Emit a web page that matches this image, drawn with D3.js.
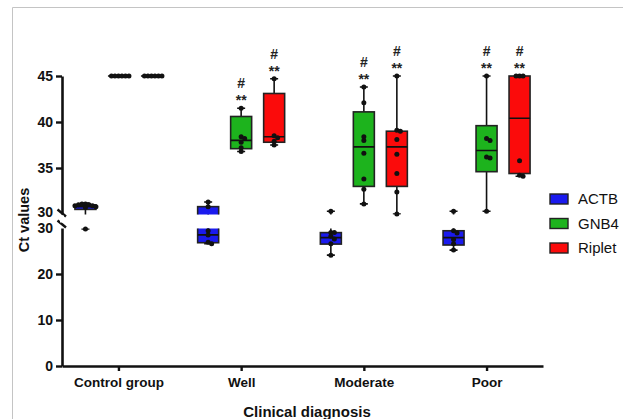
<!DOCTYPE html>
<meta charset="utf-8">
<script src="https://d3js.org/d3.v7.min.js"></script>
<style>
  body { margin: 0; background: #fff; }
  svg { display: block; }
</style>
<div id="my_dataviz"></div>
<script>

// categories and series
var groups = ["Control group", "Well", "Moderate", "Poor"];
var genes = ["ACTB", "GNB4", "Riplet"];
var geneColors = ["#1a1aee", "#1db31d", "#fb0b0b"];

// box stats per group: [min, q1, median, q3, max]
var actbBox   = [[29.8, 30.5, 30.8, 31.0, 31.2], [26.6, 26.8, 28.5, 30.8, 31.3], [24.1, 26.5, 27.9, 29.0, 30.3], [25.2, 26.3, 27.9, 29.4, 30.3]];
var gnb4Box   = [[45, 45, 45, 45, 45], [36.8, 37.1, 38.0, 40.6, 41.5], [31.1, 33.0, 37.3, 41.1, 43.8], [30.3, 34.6, 36.9, 39.6, 45.0]];
var ripletBox = [[45, 45, 45, 45, 45], [37.5, 37.8, 38.4, 43.1, 44.7], [30.0, 33.0, 37.3, 39.0, 45.0], [34.1, 34.4, 40.4, 45.0, 45.0]];

// individual samples
var actbPts = [[31.1, 31.0, 31.1, 30.9, 31.0, 30.8, 30.9, 30.7, 29.8],
               [31.3, 30.8, 29.4, 28.5, 26.9, 26.6],
               [30.3, 29.0, 29.0, 28.2, 27.6, 26.6, 24.1],
               [30.3, 29.4, 28.9, 27.5, 26.6, 25.2]];
var gnb4Pts = [[45, 45, 45, 45, 45, 45],
               [41.5, 38.4, 38.2, 37.8, 37.2, 36.8],
               [43.8, 42.1, 38.4, 38.0, 36.6, 33.8, 32.7, 31.1],
               [45.0, 38.2, 38.0, 36.2, 36.1, 30.3]];
var ripletPts = [[45, 45, 45, 45, 45, 45],
                 [44.7, 38.5, 38.3, 37.9, 37.5],
                 [45.0, 39.1, 39.0, 38.1, 36.5, 34.4, 32.4, 30.0],
                 [45, 45, 45, 35.8, 34.2, 34.1]];

// significance marks per group (for GNB4 and Riplet)
var starMarks = ["", "**", "**", "**"];
var hashMarks = ["", "#", "#", "#"];

var upperTicks = [30, 35, 40, 45];
var lowerTicks = [0, 10, 20, 30];
var breakValue = 30;

var boxes = [actbBox, gnb4Box, ripletBox];
var points = [actbPts, gnb4Pts, ripletPts];

var W = 623, H = 419;
var font = "Arial, 'Liberation Sans', sans-serif";

var svg = d3.select("#my_dataviz")
  .append("svg")
  .attr("width", W)
  .attr("height", H);

// light frame of the figure
svg.append("path")
  .attr("d", "M12.5," + H + "V7.5H" + W)
  .attr("fill", "none")
  .attr("stroke", "#c4c4c4")
  .attr("stroke-width", 1);

// scales
var x = d3.scalePoint().domain(groups).range([62, 543]).padding(0.46);
var xg = d3.scalePoint().domain(genes).range([-33, 33]);
var yUp = d3.scaleLinear().domain([30, 45]).range([214, 76]);
var yLow = d3.scaleLinear().domain([0, 30]).range([366, 228]);

var bw = 21, capW = 8;

// clip areas for the two axis segments
var defs = svg.append("defs");
defs.append("clipPath").attr("id", "clipUp")
  .append("rect").attr("x", 62).attr("y", 0).attr("width", 500).attr("height", 214.5);
defs.append("clipPath").attr("id", "clipLow")
  .append("rect").attr("x", 62).attr("y", 228.6).attr("width", 500).attr("height", 142);

// flatten to one row per box
var rows = [];
genes.forEach(function(g, gi) {
  groups.forEach(function(grp, i) {
    var b = boxes[gi][i];
    rows.push({gene: g, gi: gi, group: grp, gri: i, min: b[0], q1: b[1], med: b[2], q3: b[3], max: b[4], pts: points[gi][i]});
  });
});

function cx(d) { return x(d.group) + xg(d.gene); }

function drawBoxes(layer, y, upper) {
  // a cap is shown only on the segment that holds its value
  function capVis(v) { return (upper ? v >= breakValue : v < breakValue) ? null : "none"; }
  var g = layer.selectAll("g.box").data(rows).enter().append("g").attr("class", "box");
  // whiskers
  g.append("line")
    .attr("x1", cx).attr("x2", cx)
    .attr("y1", function(d) { return y(d.max); })
    .attr("y2", function(d) { return y(d.min); })
    .attr("stroke", "#111").attr("stroke-width", 1.6);
  g.append("line")
    .attr("x1", function(d) { return cx(d) - capW / 2; })
    .attr("x2", function(d) { return cx(d) + capW / 2; })
    .attr("y1", function(d) { return y(d.max); })
    .attr("y2", function(d) { return y(d.max); })
    .attr("display", function(d) { return capVis(d.max); })
    .attr("stroke", "#111").attr("stroke-width", 1.6);
  g.append("line")
    .attr("x1", function(d) { return cx(d) - capW / 2; })
    .attr("x2", function(d) { return cx(d) + capW / 2; })
    .attr("y1", function(d) { return y(d.min); })
    .attr("y2", function(d) { return y(d.min); })
    .attr("display", function(d) { return capVis(d.min); })
    .attr("stroke", "#111").attr("stroke-width", 1.6);
  // box
  g.append("rect")
    .attr("x", function(d) { return cx(d) - bw / 2; })
    .attr("y", function(d) { return y(d.q3); })
    .attr("width", bw)
    .attr("height", function(d) { return y(d.q1) - y(d.q3); })
    .attr("fill", function(d) { return geneColors[d.gi]; })
    .attr("stroke", "#222").attr("stroke-width", 1.6);
  // median
  g.append("line")
    .attr("x1", function(d) { return cx(d) - bw / 2; })
    .attr("x2", function(d) { return cx(d) + bw / 2; })
    .attr("y1", function(d) { return y(d.med); })
    .attr("y2", function(d) { return y(d.med); })
    .attr("stroke", "#111").attr("stroke-width", 1.6);
}

drawBoxes(svg.append("g").attr("clip-path", "url(#clipUp)"), yUp, true);
drawBoxes(svg.append("g").attr("clip-path", "url(#clipLow)"), yLow, false);

// sample dots, nudged sideways where they overlap
function yOf(v) { return v >= breakValue ? yUp(v) : yLow(v); }
var dots = [];
rows.forEach(function(r) {
  var placed = [];
  var steps = [0, 3.5, -3.5, 7, -7, 10.5, -10.5];
  r.pts.forEach(function(v) {
    var py = yOf(v);
    var off = steps[steps.length - 1];
    for (var k = 0; k < steps.length; k++) {
      var ok = placed.every(function(p) {
        var dx = p.dx - steps[k], dy = p.y - py;
        return dx * dx + dy * dy >= 10;
      });
      if (ok) { off = steps[k]; break; }
    }
    placed.push({dx: off, y: py});
    dots.push({x: cx(r) + off, y: py});
  });
});
svg.append("g").selectAll("circle").data(dots).enter().append("circle")
  .attr("cx", function(d) { return d.x; })
  .attr("cy", function(d) { return d.y; })
  .attr("r", 2.5)
  .attr("fill", "#111");

// significance marks
var marks = rows.filter(function(r) { return r.gi > 0 && starMarks[r.gri] !== ""; });
var mg = svg.append("g").attr("font-family", font).attr("font-weight", "bold")
  .attr("font-size", 14).attr("text-anchor", "middle").attr("fill", "#222");
mg.selectAll("text.star").data(marks).enter().append("text")
  .attr("x", cx)
  .attr("y", function(d) { return yUp(d.max) - 3; })
  .text(function(d) { return starMarks[d.gri]; });
mg.selectAll("text.hash").data(marks).enter().append("text")
  .attr("x", cx)
  .attr("y", function(d) { return yUp(d.max) - 20; })
  .text(function(d) { return hashMarks[d.gri]; });

// y axes (broken)
function styleAxis(g) {
  g.select(".domain").attr("stroke", "#111").attr("stroke-width", 2.6);
  g.selectAll(".tick line").attr("stroke", "#111").attr("stroke-width", 2.4);
  g.selectAll(".tick text").attr("font-family", font).attr("font-weight", "bold")
    .attr("font-size", 14).attr("fill", "#111");
  g.selectAll(".tick").filter(function(d) { return d === breakValue; }).select("line").remove();
}
var upAx = svg.append("g").attr("transform", "translate(62,0)")
  .call(d3.axisLeft(yUp).tickValues(upperTicks).tickSize(6).tickSizeOuter(0).tickPadding(3))
  .call(styleAxis);
upAx.selectAll(".tick").filter(function(d) { return d === breakValue; }).select("text").attr("y", -1.5);
svg.append("g").attr("transform", "translate(62,0)")
  .call(d3.axisLeft(yLow).tickValues(lowerTicks).tickSize(6).tickSizeOuter(0).tickPadding(3))
  .call(styleAxis);

// break marks
[213, 224].forEach(function(by) {
  svg.append("line")
    .attr("x1", 57.5).attr("y1", by - 3.5).attr("x2", 66).attr("y2", by + 3.5)
    .attr("stroke", "#111").attr("stroke-width", 2.4);
});
svg.append("rect").attr("x", 60).attr("y", 215.5).attr("width", 4).attr("height", 7).attr("fill", "#fff");

// x axis
var xAx = svg.append("g").attr("transform", "translate(0,366)")
  .call(d3.axisBottom(x).tickSize(5).tickSizeOuter(0).tickPadding(6));
xAx.select(".domain").attr("stroke", "#111").attr("stroke-width", 2.6);
xAx.selectAll(".tick line").attr("stroke", "#111").attr("stroke-width", 2.4);
xAx.selectAll(".tick text").attr("font-family", font).attr("font-weight", "bold")
  .attr("font-size", 13.5).attr("fill", "#111");

// axis titles
svg.append("text")
  .attr("x", 307).attr("y", 417)
  .attr("text-anchor", "middle")
  .attr("font-family", font).attr("font-weight", "bold").attr("font-size", 15).attr("fill", "#111")
  .text("Clinical diagnosis");
svg.append("text")
  .attr("transform", "translate(29,220) rotate(-90)")
  .attr("text-anchor", "middle")
  .attr("font-family", font).attr("font-weight", "bold").attr("font-size", 14.5).attr("fill", "#111")
  .text("Ct values");

// legend
var leg = svg.append("g").selectAll("g").data(genes).enter().append("g")
  .attr("transform", function(d, i) { return "translate(550," + (199 + i * 24.5) + ")"; });
leg.append("rect")
  .attr("x", 0).attr("y", -5).attr("width", 18).attr("height", 10)
  .attr("fill", function(d, i) { return geneColors[i]; })
  .attr("stroke", "#222").attr("stroke-width", 1.4);
leg.append("text")
  .attr("x", 28).attr("y", 0).attr("dy", "0.36em")
  .attr("font-family", font).attr("font-size", 15).attr("fill", "#111")
  .text(function(d) { return d; });

</script>
